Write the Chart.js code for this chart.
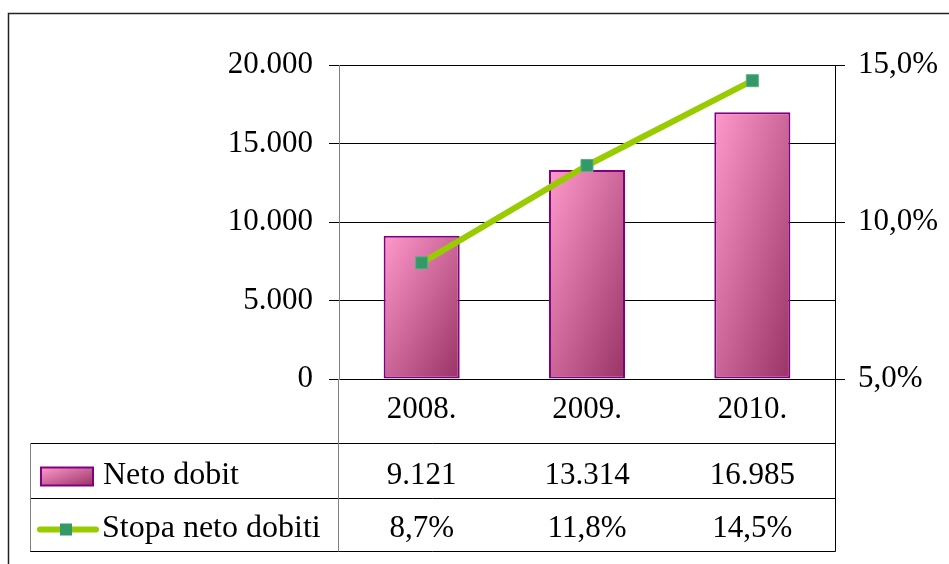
<!DOCTYPE html>
<html>
<head>
<meta charset="utf-8">
<script src="https://cdn.jsdelivr.net/npm/chart.js@4"></script>
<style>
  body { margin: 0; background: #fff; }
  #wrap { width: 949px; height: 564px; }
</style>
</head>
<body>
<div id="wrap"><canvas id="netoChart" width="949" height="564"></canvas></div>
<script>
// data
const years = ["2008.", "2009.", "2010."];
const netoDobit = [9121, 13314, 16985];
const stopaNetoDobiti = [8.7, 11.8, 14.5];
const seriesNames = ["Neto dobit", "Stopa neto dobiti"];

const FONT = "'Liberation Serif', 'Times New Roman', serif";
const FONT_SIZE = 31;
const BAR_PCT = 0.46;

function fmtThousands(v) {
  return String(Math.round(v)).replace(/\B(?=(\d{3})+(?!\d))/g, ".");
}
function fmtPct(v) {
  return v.toFixed(1).replace(".", ",") + "%";
}

// diagonal gradient across a box: light top-left corner, dark bottom-right corner
function pinkGradient(ctx, l, t, w, h) {
  const k = (2 * w * h) / (w * w + h * h);
  const g = ctx.createLinearGradient(l, t, l + h * k, t + w * k);
  g.addColorStop(0, "#ff99cc");
  g.addColorStop(1, "#993366");
  return g;
}

// white background, outer frame, data table with legend keys
const dataTable = {
  id: "dataTable",
  beforeDraw(chart) {
    const ctx = chart.ctx;
    ctx.save();
    ctx.fillStyle = "#fff";
    ctx.fillRect(0, 0, chart.width, chart.height);
    ctx.restore();
  },
  afterDraw(chart) {
    const { ctx, chartArea, scales } = chart;
    const left = chartArea.left, right = chartArea.right, bottom = chartArea.bottom;
    const tableLeft = 30;
    const rows = [bottom + 64, bottom + 119, bottom + 172];

    ctx.save();
    // outer frame
    ctx.strokeStyle = "#222";
    ctx.lineWidth = 1.5;
    ctx.beginPath();
    ctx.moveTo(8.5, chart.height);
    ctx.lineTo(8.5, 13.5);
    ctx.lineTo(chart.width, 13.5);
    ctx.stroke();

    // table lines
    ctx.lineWidth = 1;
    ctx.strokeStyle = "#000";
    ctx.beginPath();
    rows.forEach(function (y) {
      ctx.moveTo(tableLeft, y + 0.5);
      ctx.lineTo(right + 0.5, y + 0.5);
    });
    ctx.moveTo(right + 0.5, bottom);
    ctx.lineTo(right + 0.5, rows[2] + 0.5);
    ctx.stroke();

    ctx.strokeStyle = "#808080";
    ctx.beginPath();
    ctx.moveTo(left - 0.5, bottom);
    ctx.lineTo(left - 0.5, rows[2] + 0.5);
    ctx.moveTo(tableLeft + 0.5, rows[0]);
    ctx.lineTo(tableLeft + 0.5, rows[2] + 0.5);
    ctx.stroke();

    // values
    ctx.fillStyle = "#000";
    ctx.font = FONT_SIZE + "px " + FONT;
    ctx.textBaseline = "middle";
    ctx.textAlign = "center";
    const y1 = (rows[0] + rows[1]) / 2 + 5;
    const y2 = (rows[1] + rows[2]) / 2 + 4;
    years.forEach(function (_, i) {
      const cx = scales.x.getPixelForValue(i);
      ctx.fillText(fmtThousands(netoDobit[i]), cx, y1);
      ctx.fillText(fmtPct(stopaNetoDobiti[i]), cx, y2);
    });

    // legend keys
    ctx.textAlign = "left";
    ctx.font = "32px " + FONT;
    ctx.fillText(seriesNames[0], 103, y1);
    ctx.fillText(seriesNames[1], 102, y2);

    ctx.fillStyle = pinkGradient(ctx, 41, y1 - 8, 52, 18);
    ctx.fillRect(41, y1 - 8, 52, 18);
    ctx.strokeStyle = "#800080";
    ctx.lineWidth = 2;
    ctx.strokeRect(41, y1 - 8, 52, 18);

    ctx.strokeStyle = "#99cc00";
    ctx.lineWidth = 6;
    ctx.lineCap = "round";
    ctx.beginPath();
    ctx.moveTo(40, y2 + 1);
    ctx.lineTo(96, y2 + 1);
    ctx.stroke();
    ctx.fillStyle = "#339966";
    ctx.fillRect(60, y2 - 5, 12, 12);
    ctx.restore();
  }
};

new Chart(document.getElementById("netoChart"), {
  data: {
    labels: years,
    datasets: [
      {
        type: "line",
        label: seriesNames[1],
        data: stopaNetoDobiti,
        yAxisID: "y1",
        order: 0,
        borderColor: "#99cc00",
        borderWidth: 6,
        tension: 0,
        pointStyle: "rect",
        pointRadius: 8.5,
        pointBackgroundColor: "#339966",
        pointBorderColor: "#5aae86",
        pointBorderWidth: 1
      },
      {
        type: "bar",
        label: seriesNames[0],
        data: netoDobit,
        yAxisID: "y",
        order: 1,
        categoryPercentage: 1,
        barPercentage: BAR_PCT,
        borderColor: "#800080",
        borderWidth: 2,
        borderSkipped: false,
        backgroundColor: function (context) {
          const chart = context.chart;
          const xs = chart.scales.x, ys = chart.scales.y;
          if (!xs || !ys || context.type !== "data") return "#dd77aa";
          const cx = xs.getPixelForValue(context.dataIndex);
          const w = (xs.width / years.length) * BAR_PCT;
          const top = ys.getPixelForValue(context.raw);
          const base = ys.getPixelForValue(0);
          if (![cx, w, top, base].every(Number.isFinite) || base <= top) return "#dd77aa";
          return pinkGradient(chart.ctx, cx - w / 2, top, w, base - top);
        }
      }
    ]
  },
  options: {
    responsive: false,
    animation: false,
    layout: { padding: { top: 65, left: 0, right: 0, bottom: 0 } },
    plugins: {
      legend: { display: false },
      tooltip: { enabled: false }
    },
    scales: {
      x: {
        grid: { display: false, drawTicks: false },
        border: { display: false },
        ticks: { color: "#000", font: { family: FONT, size: FONT_SIZE }, padding: 12 },
        afterFit: function (s) { s.height = 185; }
      },
      y: {
        position: "left",
        min: 0,
        max: 20000,
        ticks: {
          stepSize: 5000,
          padding: 16,
          color: "#000",
          font: { family: FONT, size: FONT_SIZE },
          callback: function (v) { return fmtThousands(v); }
        },
        grid: { color: "#000", lineWidth: 1, tickLength: 10 },
        border: { color: "#808080", width: 1 },
        afterFit: function (s) { s.width = 339; }
      },
      y1: {
        position: "right",
        min: 5,
        max: 15,
        ticks: {
          stepSize: 5,
          padding: 13,
          color: "#000",
          font: { family: FONT, size: FONT_SIZE },
          callback: function (v) { return fmtPct(v); }
        },
        grid: { drawOnChartArea: false, color: "#000", tickLength: 10 },
        border: { color: "#000", width: 1 },
        afterFit: function (s) { s.width = 114; }
      }
    }
  },
  plugins: [dataTable]
});
</script>
</body>
</html>
